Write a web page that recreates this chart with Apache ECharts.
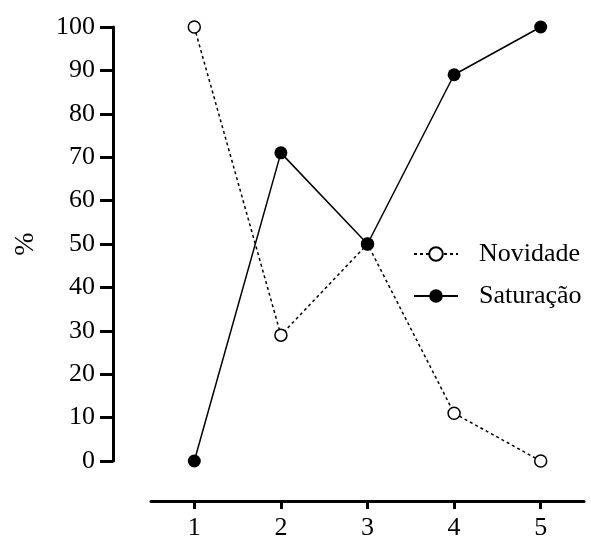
<!DOCTYPE html>
<html>
<head>
<meta charset="utf-8">
<script src="https://cdn.jsdelivr.net/npm/echarts@6/dist/echarts.min.js"></script>
<style>
html,body{margin:0;padding:0;background:#fff;}
#c{width:591px;height:541px;}
</style>
</head>
<body>
<div id="c"></div>
<script>
const categories = ['1', '2', '3', '4', '5'];
const novidade = [100, 29, 50, 11, 0];
const saturacao = [0, 71, 50, 89, 100];
const yTicks = { min: 0, max: 100, interval: 10 };

const FONT = 'Liberation Serif';
const chart = echarts.init(document.getElementById('c'), null, { renderer: 'canvas' });
chart.setOption({
  backgroundColor: '#fff',
  animation: false,
  grid: { left: 151, right: 7, top: 27, bottom: 79, containLabel: false },
  legend: {
    orient: 'vertical',
    left: 408,
    top: 236,
    itemWidth: 44,
    itemHeight: 17,
    itemGap: 16,
    textStyle: { fontFamily: FONT, fontSize: 26, color: '#000', padding: [0, 0, 0, 16] },
    data: ['Novidade', 'Saturação']
  },
  xAxis: {
    type: 'category',
    data: categories,
    boundaryGap: true,
    offset: 40,
    axisLine: { show: true, onZero: false, lineStyle: { color: '#000', width: 3 } },
    axisTick: { show: true, alignWithLabel: true, length: 8, lineStyle: { color: '#000', width: 3 } },
    axisLabel: { fontFamily: FONT, fontSize: 26, color: '#000', margin: 14 },
    splitLine: { show: false }
  },
  yAxis: {
    type: 'value',
    min: yTicks.min,
    max: yTicks.max,
    interval: yTicks.interval,
    offset: 38,
    name: '%',
    nameLocation: 'middle',
    nameGap: 73,
    nameRotate: 90,
    nameTextStyle: { fontFamily: FONT, fontSize: 28, color: '#000' },
    axisLine: { show: true, onZero: false, lineStyle: { color: '#000', width: 3 } },
    axisTick: { show: true, length: 13, lineStyle: { color: '#000', width: 3 } },
    axisLabel: { fontFamily: FONT, fontSize: 26, color: '#000', margin: 18 },
    splitLine: { show: false }
  },
  series: [
    {
      name: 'Novidade',
      type: 'line',
      data: novidade,
      symbol: 'circle',
      symbolSize: 12,
      itemStyle: { color: '#fff', borderColor: '#000', borderWidth: 1.5 },
      lineStyle: { color: '#000', width: 1.5, type: [3, 3] },
      z: 2
    },
    {
      name: 'Saturação',
      type: 'line',
      data: saturacao,
      symbol: 'circle',
      symbolSize: 13,
      itemStyle: { color: '#000', borderColor: '#000', borderWidth: 0 },
      lineStyle: { color: '#000', width: 1.5, type: 'solid' },
      z: 3
    }
  ]
});
</script>
</body>
</html>
